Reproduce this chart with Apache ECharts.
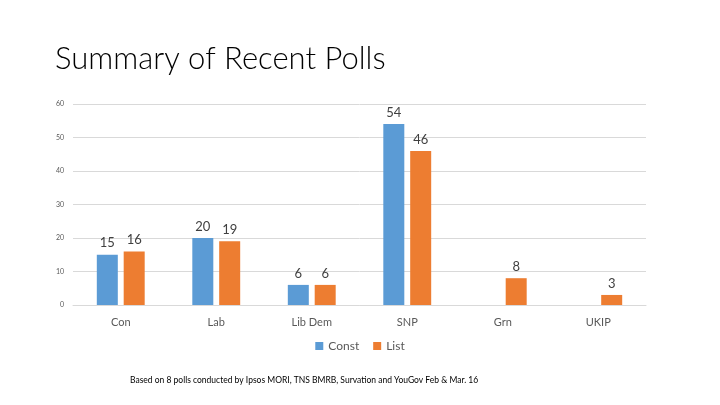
<!DOCTYPE html>
<html><head><meta charset="utf-8">
<script src="https://cdn.jsdelivr.net/npm/echarts@6/dist/echarts.min.js"></script>
<style>html,body{margin:0;padding:0;background:#fff}#c{width:720px;height:405px}</style>
</head><body><div id="c"></div>
<script>
const categories = ['Con','Lab','Lib Dem','SNP','Grn','UKIP'];
const constVals = [15,20,6,54,null,null];
const listVals = [16,19,6,46,8,3];
const yTicks = {min:0,max:60,interval:10};
const titleText = 'Summary of Recent Polls';
const footnote = 'Based on 8 polls conducted by Ipsos MORI, TNS BMRB, Survation and YouGov Feb & Mar. 16';

const chart = echarts.init(document.getElementById('c'), null, {renderer:'canvas'});
const lbl = {show:true,position:'top',color:'#404040',fontSize:13,fontFamily:'Lato',distance:5};
chart.setOption({
  animation:false,
  title:[{text:titleText,left:50,top:38,textStyle:{fontFamily:'Lato',fontWeight:300,fontSize:31,color:'#000'}},
         {text:footnote,left:125,top:371,textStyle:{fontFamily:'Lato',fontWeight:'normal',fontSize:8.5,color:'#000'}}],
  legend:{data:['Const','List'],top:335,left:'center',itemWidth:8,itemHeight:8,itemGap:14,icon:'rect',
    textStyle:{fontFamily:'Lato',fontSize:12,color:'#595959'}},
  grid:{left:73,right:74,top:104,bottom:100,containLabel:false},
  xAxis:{type:'category',data:categories,axisTick:{show:false},
    axisLine:{lineStyle:{color:'#D9D9D9'}},
    axisLabel:{color:'#595959',fontFamily:'Lato',fontSize:11,margin:12}},
  yAxis:{type:'value',min:yTicks.min,max:yTicks.max,interval:yTicks.interval,
    axisLabel:{color:'#595959',fontFamily:'Lato',fontSize:7,margin:9},
    splitLine:{lineStyle:{color:'#D9D9D9'}},axisLine:{show:false},axisTick:{show:false}},
  series:[
    {name:'Const',type:'bar',data:constVals,barWidth:21,barGap:'28%',itemStyle:{color:'#5B9BD5'},label:lbl},
    {name:'List',type:'bar',data:listVals,barWidth:21,itemStyle:{color:'#ED7D31'},label:lbl}
  ]
});
</script></body></html>
